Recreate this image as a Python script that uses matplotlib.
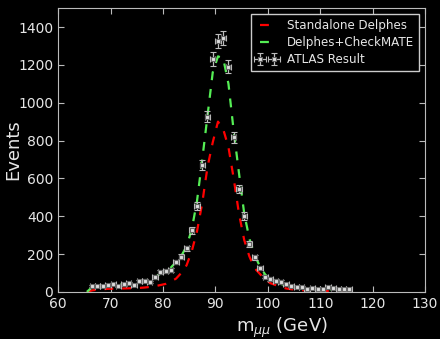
import numpy as np
import matplotlib
matplotlib.use("Agg")
import matplotlib.pyplot as plt

# ATLAS data: bin centres and counts
data_x = [66.5, 67.5, 68.5, 69.5, 70.5, 71.5, 72.5, 73.5, 74.5, 75.5,
          76.5, 77.5, 78.5, 79.5, 80.5, 81.5, 82.5, 83.5, 84.5, 85.5,
          86.5, 87.5, 88.5, 89.5, 90.5, 91.5, 92.5, 93.5, 94.5, 95.5,
          96.5, 97.5, 98.5, 99.5, 100.5, 101.5, 102.5, 103.5, 104.5, 105.5,
          106.5, 107.5, 108.5, 109.5, 110.5, 111.5, 112.5, 113.5, 114.5, 115.5]
data_y = [30, 30, 33, 37, 41, 30, 40, 45, 38, 55,
          60, 52, 78, 103, 108, 118, 158, 187, 230, 326,
          453, 670, 926, 1231, 1327, 1343, 1190, 818, 544, 401,
          253, 182, 126, 80, 68, 58, 54, 43, 30, 25,
          27, 17, 18, 16, 17, 24, 20, 16, 15, 16]

# simulation curves
curve_x = [65.5] + data_x
standalone = [0, 8, 12, 14, 16, 17, 18, 18, 19, 20, 21,
              23, 26, 30, 36, 42, 55, 70, 100, 140, 215,
              320, 470, 660, 790, 900, 860, 765, 600, 415, 275,
              187, 125, 95, 65, 46, 36, 25, 18, 14, 11,
              9, 8, 7, 6, 5, 5, 4, 4, 4, 3]
checkmate = [0, 25, 28, 30, 33, 35, 38, 42, 45, 50, 55,
             60, 68, 78, 96, 108, 128, 158, 190, 240, 330,
             480, 700, 930, 1160, 1245, 1235, 1100, 850, 630, 415,
             280, 195, 134, 92, 65, 52, 42, 34, 28, 24,
             21, 19, 17, 16, 15, 14, 13, 13, 12, 12]

fig = plt.figure(figsize=(4.4, 3.39), dpi=100, facecolor='black')
ax = fig.add_axes([0.132, 0.139, 0.834, 0.837], facecolor='black')

fg = '#e6e6e6'
ax.plot(curve_x, standalone, '--', color='#ff0000', lw=1.6, dashes=(4, 4),
        label='Standalone Delphes')
ax.plot(curve_x, checkmate, '--', color='#55ee55', lw=1.6, dashes=(4, 4),
        label='Delphes+CheckMATE')
yerr = np.sqrt(np.array(data_y, dtype=float))
ax.errorbar(data_x, data_y, yerr=yerr, xerr=0.5, fmt='s', ms=2.5,
            mfc='#dddddd', mec='#666666', mew=0.8, ecolor='#bbbbbb',
            elinewidth=0.9, capsize=2, capthick=0.9, label='ATLAS Result')

ax.set_xlim(60, 130)
ax.set_ylim(0, 1500)
ax.set_xticks(np.arange(60, 131, 10))
ax.set_yticks(np.arange(0, 1401, 200))

for s in ax.spines.values():
    s.set_color('#bbbbbb')
ax.tick_params(direction='in', colors='#bbbbbb', labelcolor=fg, labelsize=10,
               top=True, right=True, length=4)

ax.set_ylabel('Events', color=fg, fontsize=13)
ax.set_xlabel(r'm$_{\mu\mu}$ (GeV)', color=fg, fontsize=13)
ax.xaxis.set_label_coords(0.61, -0.085)
ax.yaxis.set_label_coords(-0.097, 0.5)

leg = ax.legend(loc='upper right', fontsize=8.6, numpoints=2, fancybox=False,
                facecolor='black', edgecolor='#cccccc', framealpha=1,
                borderaxespad=0.5, labelspacing=0.35, handlelength=1.8)
for t in leg.get_texts():
    t.set_color(fg)

fig.savefig('out.png', dpi=100, facecolor='black')
